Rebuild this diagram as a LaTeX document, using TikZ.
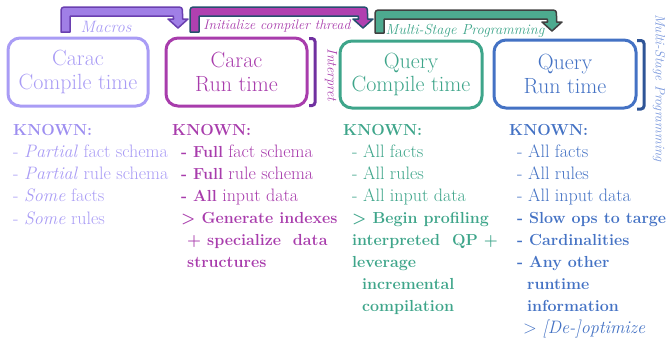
\documentclass[tikz,border=0pt]{standalone}
\usepackage{fontspec}
\definecolor{cA}{HTML}{A99CF5}
\definecolor{cAk}{HTML}{9D8EF0}
\definecolor{cB}{HTML}{A83CAC}
\definecolor{cC}{HTML}{3EA58A}
\definecolor{cD}{HTML}{4472C4}
\definecolor{brP}{HTML}{7030A0}
\definecolor{brB}{HTML}{2F5597}
\definecolor{lbl}{HTML}{7A98DC}
\definecolor{aFill}{HTML}{A07FE6}
\definecolor{aLine}{HTML}{6A3FB0}
\definecolor{bFill}{HTML}{B040B0}
\definecolor{bLine}{HTML}{264F6E}
\definecolor{dFill}{HTML}{4DAA8F}
\definecolor{dLine}{HTML}{404040}
\newcommand\B[1]{{\fontsize{16}{20}\selectfont\bfseries #1}}
\tikzset{
  stagebox/.style={draw, line width=3pt, rounded corners=12pt, align=center,
    font=\fontsize{22}{23.5}\selectfont, inner sep=0pt},
  bodytxt/.style={anchor=base west, inner sep=0pt, font=\fontsize{18}{20}\selectfont},
  arrlabel/.style={inner sep=0pt},
  barrow/.style={line width=1.5pt, line join=round},
  bracket/.style={line width=3pt, rounded corners=3pt}
}
% #1 L, #2 right centre, #3 bottom, #4 top, #5 head base, #6 tip y
\newcommand\blockarr[7]{%
  \draw[barrow,#7] (#1,#3) -- (#1,#4+7) .. controls (#1,#4) .. (#1+7,#4)
   -- (#2+4.5-7,#4) .. controls (#2+4.5,#4) .. (#2+4.5,#4+7)
   -- (#2+4.5,#5) -- (#2+10,#5) -- (#2,#6) -- (#2-10,#5) -- (#2-4.5,#5)
   -- (#2-4.5,#4+11) .. controls (#2-4.5,#4+9) .. (#2-6.5,#4+9)
   -- (#1+11,#4+9) .. controls (#1+9,#4+9) .. (#1+9,#4+11)
   -- (#1+9,#3) -- cycle;}
\begin{document}
\begin{tikzpicture}[x=1pt,y=-1pt]
\useasboundingbox (0,0) rectangle (672,343);
\clip (0,0) rectangle (672,343);

% block arrows
\blockarr{61}{178}{32}{7}{19}{28}{fill=aFill, draw=aLine}
\blockarr{190}{363}{32}{7}{19}{28}{fill=bFill, draw=bLine}
\blockarr{375}{552}{33}{10}{22}{31}{fill=dFill, draw=dLine}

\node[arrlabel, text=cA, font=\itshape\fontsize{16.5}{18}\selectfont] (lmac) at (106,27) {Macros};
\node[arrlabel, text=cB, font=\itshape\fontsize{13.8}{16}\selectfont] (linit) at (277,26) {Initialize compiler thread};
\node[arrlabel, text=cC, font=\itshape\fontsize{14.5}{17}\selectfont] (lmsp) at (465,31) {Multi-Stage Programming};

% stage boxes
\node[stagebox, draw=cA, text=cA, minimum width=140pt, minimum height=68pt] (b1) at (78,72) {Carac\\Compile time};
\node[stagebox, draw=cB, text=cB, minimum width=141pt, minimum height=68pt] (b2) at (236.5,72) {Carac\\Run time};
\node[stagebox, draw=cC, text=cC, minimum width=142pt, minimum height=67pt] (b3) at (411,74.5) {Query\\Compile time};
\node[stagebox, draw=cD, text=cD, minimum width=142pt, minimum height=68pt] (b4) at (565,74) {Query\\Run time};

% brackets
\coordinate (p1) at (309,38.5);
\coordinate (p2) at (309,105.5);
\draw[bracket, draw=brP] (p1) -- (315,38.5) -- (315,105.5) -- (p2);
\node[text=cB, font=\itshape\fontsize{14}{16}\selectfont, rotate=-90, inner sep=0pt] (interp) at (331,75) {Interpret};
\coordinate (q1) at (637,40.5);
\coordinate (q2) at (637,109);
\draw[bracket, draw=brB] (q1) -- (644,40.5) -- (644,109) -- (q2);
\node[text=lbl, font=\itshape\fontsize{13.5}{15}\selectfont, rotate=-90, inner sep=0pt] (msp) at (659,88) {Multi-Stage Programming};

% column 1
\node[bodytxt, text=cAk] (k1) at (13,135) {\B{KNOWN:}};
\foreach \t [count=\i] in {{- \textit{Partial} fact schema},{- \textit{Partial} rule schema},{- \textit{Some} facts},{- \textit{Some} rules}}
  \node[bodytxt, text=cA] (c1-\i) at (13,{135+22.3*\i}) {\t};

% column 2
\node[bodytxt, text=cB] (k2) at (172,135) {\B{KNOWN:}};
\foreach \xx/\t [count=\i] in {181/{\B{- Full} fact schema},181/{\B{- Full} rule schema},181/{\B{- All} input data},181/{\B{> Generate indexes}},187/{\B{+ specialize\ \ data}},187/{\B{structures}}}
  \node[bodytxt, text=cB] (c2-\i) at (\xx,{135+22*\i}) {\t};

% column 3
\node[bodytxt, text=cC] (k3) at (343,135) {\B{KNOWN:}};
\foreach \xx/\t [count=\i] in {352/{- All facts},352/{- All rules},352/{- All input data},352/{\B{> Begin profiling}},352/{\B{interpreted\ \ QP +}},352/{\B{leverage}},362/{\B{incremental}},362/{\B{compilation}}}
  \node[bodytxt, text=cC] (c3-\i) at (\xx,{135+22*\i}) {\t};

% column 4
\node[bodytxt, text=cD] (k4) at (509,135) {\B{KNOWN:}};
\foreach \xx/\t [count=\i] in {517/{- All facts},517/{- All rules},517/{- All input data},517/{\B{- Slow ops to targe}},517/{\B{- Cardinalities}},517/{\B{- Any other}},527/{\B{runtime}},527/{\B{information}},523/{> \textit{[De-]optimize}}}
  \node[bodytxt, text=cD] (c4-\i) at (\xx,{135+22*\i}) {\t};
\end{tikzpicture}
\end{document}
